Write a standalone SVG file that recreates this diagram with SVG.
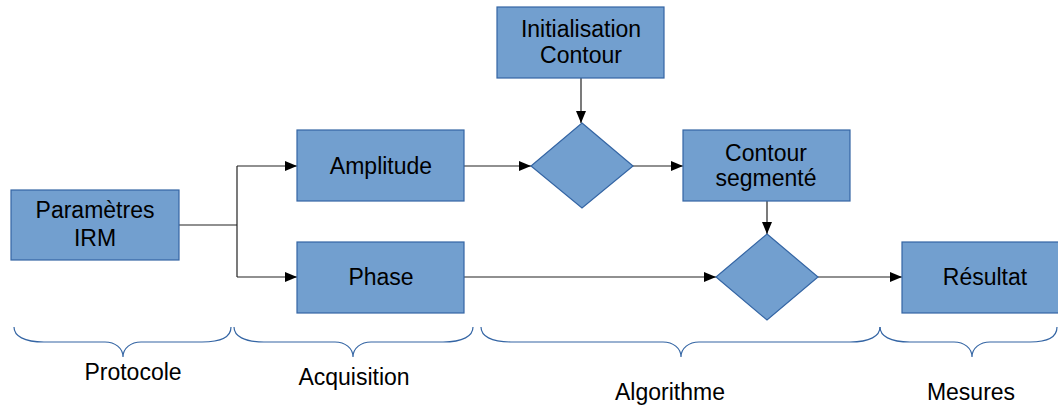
<svg xmlns="http://www.w3.org/2000/svg" width="1058" height="405" viewBox="0 0 1058 405">
<defs>
<marker id="arr" viewBox="0 0 12 10" refX="12" refY="5" markerWidth="12" markerHeight="10" markerUnits="userSpaceOnUse" orient="auto">
<path d="M0,0 L12,5 L0,10 Z" fill="#000"/>
</marker>
<style>
.box{fill:#729fcf;stroke:#3465a4;stroke-width:1.2}
.t{font-family:"Liberation Sans",Arial,sans-serif;font-size:23px;fill:#000;text-anchor:middle}
.c{fill:none;stroke:#222;stroke-width:1.2}
.br{fill:none;stroke:#3465a4;stroke-width:1.2}
</style>
</defs>
<rect width="1058" height="405" fill="#fff"/>
<g id="connectors">
<path class="c" d="M179,225 H237"/>
<path class="c" d="M237,166 V277"/>
<path class="c" d="M237,166 H297" marker-end="url(#arr)"/>
<path class="c" d="M237,277 H297" marker-end="url(#arr)"/>
<path class="c" d="M464,166 H531" marker-end="url(#arr)"/>
<path class="c" d="M581,78 V123" marker-end="url(#arr)"/>
<path class="c" d="M633,166 H683" marker-end="url(#arr)"/>
<path class="c" d="M767,201 V234" marker-end="url(#arr)"/>
<path class="c" d="M464,277 H716" marker-end="url(#arr)"/>
<path class="c" d="M818,277 H902" marker-end="url(#arr)"/>
</g>
<g id="n-parametres"><rect class="box" x="11" y="190" width="168" height="70"/><text class="t" x="95" y="218">Paramètres</text><text class="t" x="95" y="246">IRM</text></g>
<g id="n-amplitude"><rect class="box" x="297" y="130" width="167" height="71"/><text class="t" x="381" y="174">Amplitude</text></g>
<g id="n-phase"><rect class="box" x="297" y="242" width="167" height="71"/><text class="t" x="381" y="285">Phase</text></g>
<g id="n-init"><rect class="box" x="497" y="7" width="167" height="71"/><text class="t" x="581" y="37">Initialisation</text><text class="t" x="581" y="63">Contour</text></g>
<g id="n-d1"><polygon class="box" points="582,123 633,166 582,208 531,166"/></g>
<g id="n-contour"><rect class="box" x="683" y="130" width="167" height="71"/><text class="t" x="766" y="161">Contour</text><text class="t" x="766" y="186">segmenté</text></g>
<g id="n-d2"><polygon class="box" points="767,234 818,277 767,320 716,277"/></g>
<g id="n-resultat"><rect class="box" x="902" y="242" width="167" height="71"/><text class="t" x="985" y="285">Résultat</text></g>
<g id="braces">
<path class="br" d="M14,327 C14,336 24,342 44,342 L105,342 C115,342 123,348 123,357 C123,348 131,342 141,342 L202,342 C222,342 231,336 231,327"/>
<path class="br" d="M234,327 C234,336 244,342 264,342 L335,342 C345,342 353,348 353,357 C353,348 361,342 371,342 L443,342 C463,342 473,336 473,327"/>
<path class="br" d="M481,327 C481,336 491,342 511,342 L663,342 C673,342 681,348 681,357 C681,348 689,342 699,342 L850,342 C870,342 880,336 880,327"/>
<path class="br" d="M880,327 C880,336 890,342 910,342 L954,342 C964,342 972,348 972,357 C972,348 980,342 990,342 L1030,342 C1050,342 1057,336 1057,327"/>
</g>
<g id="labels">
<text class="t" x="133" y="380">Protocole</text>
<text class="t" x="354" y="385">Acquisition</text>
<text class="t" x="670" y="400">Algorithme</text>
<text class="t" x="971" y="400">Mesures</text>
</g>
</svg>
